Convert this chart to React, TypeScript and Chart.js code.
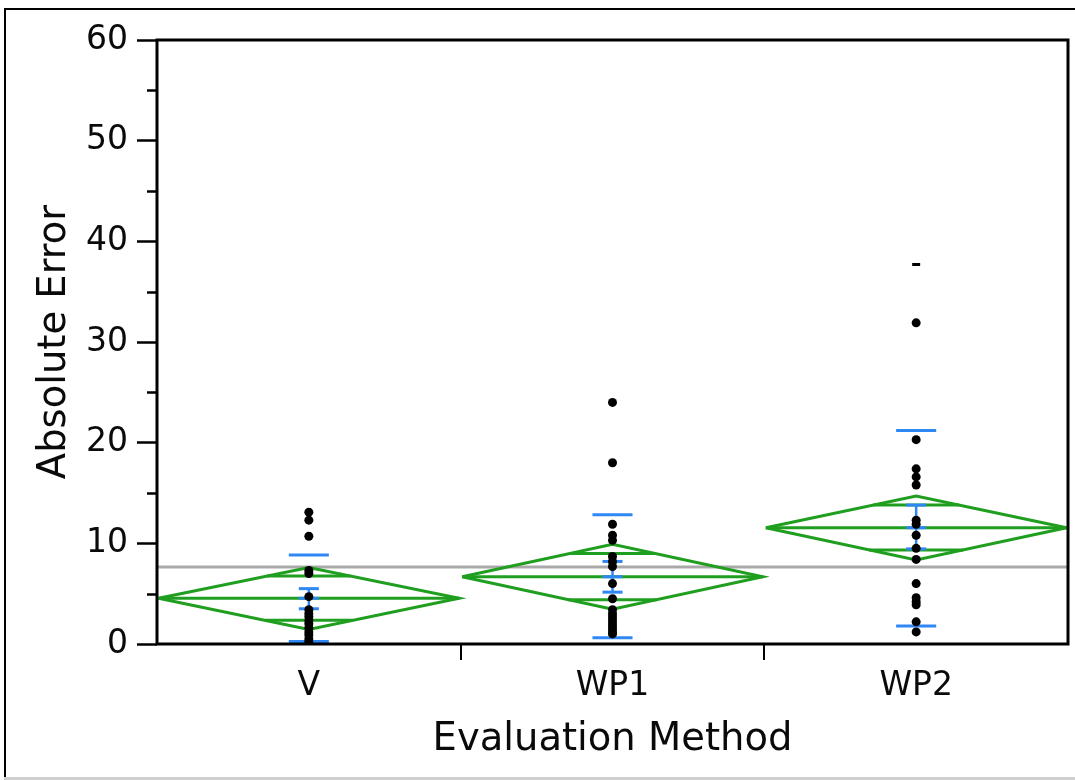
import React, { useEffect, useRef } from 'react';
import { Chart, registerables } from 'chart.js';

Chart.register(...registerables);

// ---- data ----
const categories = ['V', 'WP1', 'WP2'];
const vValues = [13.1, 12.3, 10.7, 7.3, 7.0, 4.7, 3.4, 3.0, 2.7, 2.3, 2.0, 1.6, 1.2, 0.9, 0.5, 0.2];
const wp1Values = [24.0, 18.0, 11.9, 10.8, 10.3, 8.7, 8.2, 7.7, 6.0, 4.5, 3.4, 3.0, 2.7, 2.4, 2.1, 1.8, 1.5, 1.2, 1.0];
const wp2Values = [31.9, 20.3, 17.4, 16.6, 15.8, 12.3, 11.9, 10.8, 9.5, 8.4, 6.0, 4.6, 4.2, 3.9, 2.2, 1.2];
const wp2EdgeValues = [37.7];

const means = [4.54, 6.68, 11.55];
const ciLower = [1.45, 3.45, 8.35];
const ciUpper = [7.6, 9.9, 14.7];
const overlapLower = [2.35, 4.4, 9.35];
const overlapUpper = [6.75, 9.0, 13.8];
const sdLower = [0.25, 0.63, 1.8];
const sdUpper = [8.85, 12.85, 21.2];
const seLower = [3.5, 5.15, 9.45];
const seUpper = [5.5, 8.2, 13.8];
const grandMean = 7.65;

const yMinorTicks = [5, 15, 25, 35, 45, 55];

// ---- styles ----
const FONT = "'DejaVu Sans', sans-serif";
const TEXT = '#0a0a0a';
const GREEN = '#1f9e1f';
const BLUE = '#2f87f5';
const GRAY = '#a9a9a9';
const DIAMOND_HALF = 0.495;
const SD_HALF = 0.066;
const SE_HALF = 0.033;

type P = { x: number; y: number };
const seg = (x1: number, y1: number, x2: number, y2: number): P[] => [
  { x: x1, y: y1 },
  { x: x2, y: y2 },
];

const lineDs = (data: P[], color: string, width: number) => ({
  type: 'scatter',
  data,
  showLine: true,
  borderColor: color,
  backgroundColor: color,
  borderWidth: width,
  pointRadius: 0,
  pointHoverRadius: 0,
  fill: false,
  tension: 0,
  xAxisID: 'x',
  yAxisID: 'y',
});

const framePlugin = {
  id: 'framePlugin',
  afterDraw(chart: any) {
    const { ctx, chartArea } = chart;
    const ys = chart.scales.y;
    ctx.save();
    // outer frame
    ctx.strokeStyle = '#000';
    ctx.lineWidth = 2;
    ctx.beginPath();
    ctx.moveTo(4, 9);
    ctx.lineTo(chart.width, 9);
    ctx.moveTo(5, 8);
    ctx.lineTo(5, chart.height);
    ctx.stroke();
    ctx.strokeStyle = '#cfcfcf';
    ctx.lineWidth = 3;
    ctx.beginPath();
    ctx.moveTo(4, chart.height - 1.5);
    ctx.lineTo(chart.width, chart.height - 1.5);
    ctx.stroke();
    // plot box
    ctx.strokeStyle = '#000';
    ctx.lineWidth = 3;
    ctx.strokeRect(chartArea.left, chartArea.top, chartArea.right - chartArea.left, chartArea.bottom - chartArea.top);
    // minor y ticks
    ctx.lineWidth = 2.5;
    ctx.beginPath();
    yMinorTicks.forEach((v) => {
      const py = Math.round(ys.getPixelForValue(v)) + 0.5;
      ctx.moveTo(chartArea.left - 10, py);
      ctx.lineTo(chartArea.left, py);
    });
    ctx.stroke();
    ctx.restore();
  },
};

export default function App() {
  const ref = useRef<HTMLCanvasElement>(null);

  useEffect(() => {
    if (!ref.current) return;
    const groups = [vValues, wp1Values, wp2Values];
    const datasets: any[] = [];

    // points (drawn on top)
    groups.forEach((vals, i) => {
      datasets.push({
        type: 'scatter',
        data: vals.map((v) => ({ x: i, y: v })),
        showLine: false,
        pointRadius: 4.5,
        pointHoverRadius: 4.5,
        pointBackgroundColor: '#000',
        pointBorderWidth: 0,
        xAxisID: 'x',
        yAxisID: 'y',
      });
    });
    datasets.push({
      type: 'scatter',
      data: wp2EdgeValues.map((v) => ({ x: 2, y: v })),
      showLine: false,
      pointStyle: 'line',
      pointRadius: 4,
      pointBorderWidth: 3,
      pointBorderColor: '#000',
      xAxisID: 'x',
      yAxisID: 'y',
    });

    // blue std-dev and std-error bars
    categories.forEach((_, i) => {
      datasets.push(lineDs(seg(i - SD_HALF, sdUpper[i], i + SD_HALF, sdUpper[i]), BLUE, 3));
      datasets.push(lineDs(seg(i - SD_HALF, sdLower[i], i + SD_HALF, sdLower[i]), BLUE, 3));
      datasets.push(lineDs(seg(i - SE_HALF, seUpper[i], i + SE_HALF, seUpper[i]), BLUE, 3));
      datasets.push(lineDs(seg(i - SE_HALF, seLower[i], i + SE_HALF, seLower[i]), BLUE, 3));
      datasets.push(lineDs(seg(i - SE_HALF, means[i], i + SE_HALF, means[i]), BLUE, 3));
      datasets.push(lineDs(seg(i, seLower[i], i, seUpper[i]), BLUE, 2.5));
    });

    // green means diamonds
    categories.forEach((_, i) => {
      const m = means[i];
      datasets.push(
        lineDs(
          [
            { x: i - DIAMOND_HALF, y: m },
            { x: i, y: ciUpper[i] },
            { x: i + DIAMOND_HALF, y: m },
            { x: i, y: ciLower[i] },
            { x: i - DIAMOND_HALF, y: m },
          ],
          GREEN,
          3
        )
      );
      datasets.push(lineDs(seg(i - DIAMOND_HALF, m, i + DIAMOND_HALF, m), GREEN, 3));
      const wU = DIAMOND_HALF * (1 - (overlapUpper[i] - m) / (ciUpper[i] - m));
      const wL = DIAMOND_HALF * (1 - (m - overlapLower[i]) / (m - ciLower[i]));
      datasets.push(lineDs(seg(i - wU, overlapUpper[i], i + wU, overlapUpper[i]), GREEN, 3));
      datasets.push(lineDs(seg(i - wL, overlapLower[i], i + wL, overlapLower[i]), GREEN, 3));
    });

    // grand mean line (bottom-most)
    datasets.push(lineDs(seg(-0.5, grandMean, categories.length - 0.5, grandMean), GRAY, 3));

    const boundaryColor = (ctx: any) =>
      ctx.index === 1 || ctx.index === 2 ? '#000' : 'rgba(0,0,0,0)';

    const chart = new Chart(ref.current, {
      type: 'scatter',
      data: { datasets },
      plugins: [framePlugin],
      options: {
        responsive: false,
        animation: false,
        events: [],
        layout: { padding: { top: 40, right: 7, left: 0, bottom: 0 } },
        plugins: { legend: { display: false }, tooltip: { enabled: false } },
        scales: {
          x: { type: 'linear', min: -0.5, max: categories.length - 0.5, display: false },
          xCat: {
            type: 'category',
            labels: categories,
            position: 'bottom',
            offset: true,
            grid: {
              offset: true,
              drawOnChartArea: false,
              drawTicks: true,
              tickLength: 16,
              lineWidth: 2,
              color: boundaryColor,
              tickColor: boundaryColor,
            },
            border: { display: false },
            ticks: {
              font: { family: FONT, size: 33 },
              color: TEXT,
              padding: 7,
              maxRotation: 0,
              autoSkip: false,
            },
            title: {
              display: true,
              text: 'Evaluation Method',
              font: { family: FONT, size: 38.5 },
              color: TEXT,
              padding: { top: 0, bottom: 17 },
            },
            afterFit: (s: any) => {
              s.height = 136;
            },
          },
          y: {
            type: 'linear',
            position: 'left',
            min: 0,
            max: 60,
            ticks: {
              stepSize: 10,
              font: { family: FONT, size: 33 },
              color: TEXT,
              padding: 9,
            },
            grid: {
              drawOnChartArea: false,
              tickLength: 20,
              tickWidth: 2.5,
              tickColor: '#000',
            },
            border: { display: false },
            title: {
              display: true,
              text: 'Absolute Error',
              font: { family: FONT, size: 38.5 },
              color: TEXT,
              padding: { top: 32, bottom: 0 },
            },
            afterFit: (s: any) => {
              s.width = 157;
            },
          },
        },
      } as any,
    } as any);

    return () => chart.destroy();
  }, []);

  return (
    <div style={{ position: 'fixed', left: 0, top: 0, width: 1075, height: 780, background: '#fff' }}>
      <canvas ref={ref} width={1075} height={780} style={{ display: 'block' }} />
    </div>
  );
}
